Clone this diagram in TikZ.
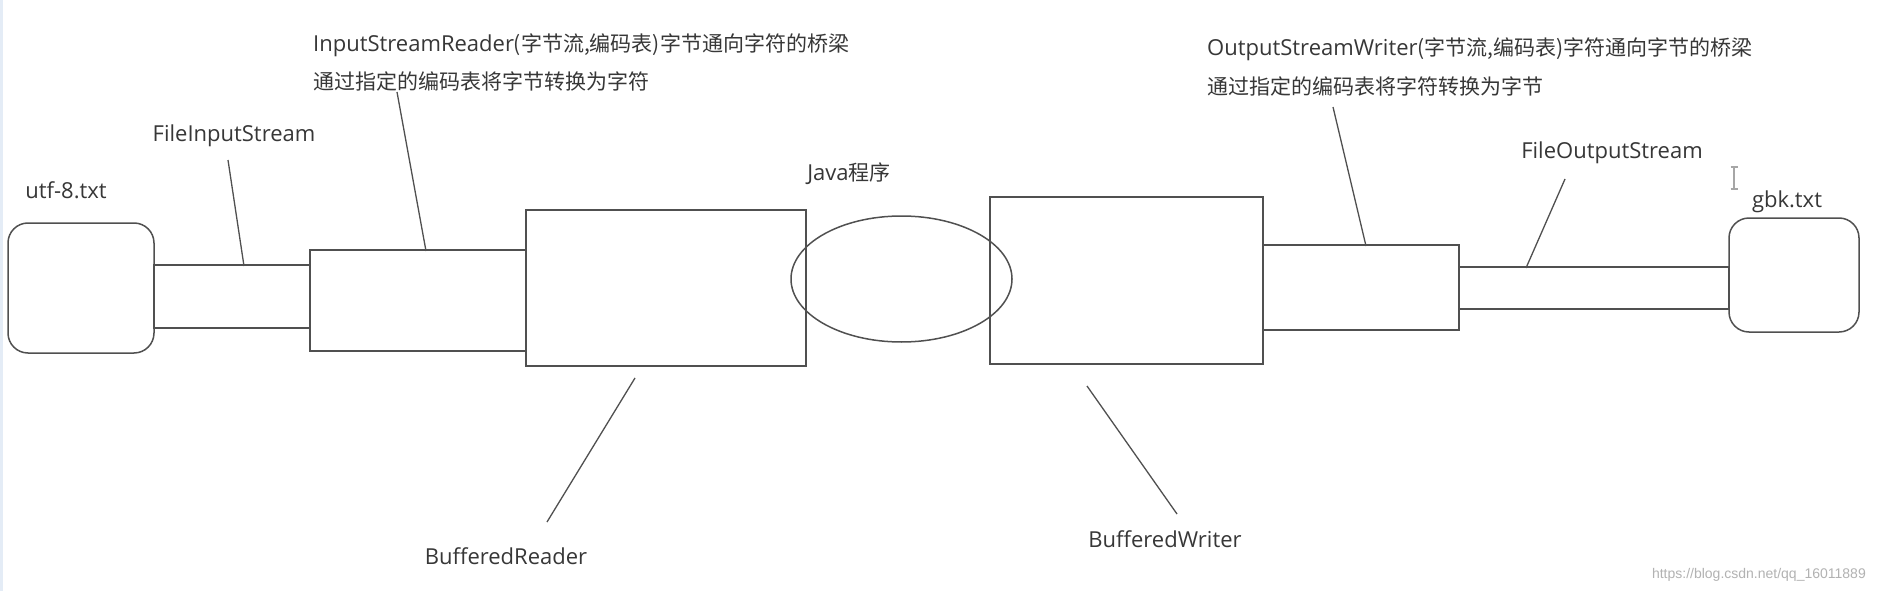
\documentclass[tikz,border=0pt]{standalone}
\usepackage{fontspec}
\setmainfont{Open Sans}
\newfontfamily\cjk{Noto Sans CJK SC}
\newfontfamily\wmfont{Liberation Sans}
\newcommand\cjtext[1]{{\cjk\fontsize{21}{25}\selectfont #1}}
\usetikzlibrary{shapes.geometric}
\definecolor{ln}{RGB}{80,80,80}
\definecolor{tx}{RGB}{55,55,55}
\definecolor{edgeblue}{RGB}{228,236,246}
\begin{document}
\begin{tikzpicture}[x=1pt,y=-1pt,
  shp/.style={draw=ln,line width=1.5pt,inner sep=0pt,outer sep=0pt},
  boxr/.style={shp,rectangle,rounded corners=20pt},
  boxs/.style={shp,rectangle},
  lbl/.style={text=tx,inner sep=0pt,font=\fontsize{22}{26}\selectfont},
  lead/.style={draw=ln,line width=1.3pt},
  thick edge/.style={draw=ln,line width=2.6pt}]
\useasboundingbox (0,0) rectangle (1877,591);
\fill[white] (0,0) rectangle (1877,591);
\draw[edgeblue,line width=3pt] (1.5,0) -- (1.5,591);

% shapes
\node[boxr,minimum width=146pt,minimum height=130pt] (utf) at (81,288) {};
\node[boxs,minimum width=156pt,minimum height=63pt] (fis) at (232,296.5) {};
\node[boxs,minimum width=216pt,minimum height=101pt] (isr) at (418,300.5) {};
\node[boxs,minimum width=280pt,minimum height=156pt] (br) at (666,288) {};
\node[boxs,minimum width=273pt,minimum height=167pt] (bw) at (1126.5,280.5) {};
\node[shp,ellipse,minimum width=221pt,minimum height=126pt] (java) at (901.5,279) {};
\node[boxs,minimum width=196pt,minimum height=85pt] (osw) at (1361,287.5) {};
\node[boxs,minimum width=270pt,minimum height=42pt] (fos) at (1594,288) {};
\node[boxr,minimum width=130pt,minimum height=114pt] (gbk) at (1794,275) {};

% darker joints
\draw[thick edge] (fis.north west) -- (fis.south west);
\draw[thick edge] (fis.north east) -- (fis.south east);
\draw[thick edge] (isr.north east) -- (isr.south east);
\draw[thick edge] (fos.north west) -- (fos.south west);

% labels
\node[lbl] (lutf) at (66,190) {utf-8.txt};
\node[lbl] (lfis) at (234,136) {FileInputStream};
\node[lbl,anchor=west] (lisr1) at (313,45) {InputStreamReader\cjtext{(字节流,编码表)字节通向字符的桥梁}};
\node[lbl,anchor=west] (lisr2) at (313,81) {\cjtext{通过指定的编码表将字节转换为字符}};
\node[lbl] (ljava) at (849,174) {Java\cjtext{程序}};
\node[lbl] (lbr) at (506,556) {BufferedReader};
\node[lbl] (lbw) at (1165,539) {BufferedWriter};
\node[lbl,anchor=west] (losw1) at (1207,49) {OutputStreamWriter\cjtext{(字节流,编码表)字符通向字节的桥梁}};
\node[lbl,anchor=west] (losw2) at (1207,86) {\cjtext{通过指定的编码表将字符转换为字节}};
\node[lbl] (lfos) at (1612,153) {FileOutputStream};
\node[lbl] (lgbk) at (1787,202) {gbk.txt};
\node[text=gray!60,inner sep=0pt,anchor=east,font=\wmfont\fontsize{14}{16}\selectfont] (wm) at (1866,575) {https://blog.csdn.net/qq\_16011889};

% leader lines
\coordinate (fisA) at (228,160);   \coordinate (fisB) at (244,266);
\coordinate (isrA) at (397,92);    \coordinate (isrB) at (426,251);
\coordinate (brA) at (635,378);    \coordinate (brB) at (547,522);
\coordinate (bwA) at (1087,386);   \coordinate (bwB) at (1177,514);
\coordinate (oswA) at (1333,107);  \coordinate (oswB) at (1366,246);
\coordinate (fosA) at (1565,179);  \coordinate (fosB) at (1526,268);
\draw[lead] (fisA) -- (fisB);
\draw[lead] (isrA) -- (isrB);
\draw[lead] (brA) -- (brB);
\draw[lead] (bwA) -- (bwB);
\draw[lead] (oswA) -- (oswB);
\draw[lead] (fosA) -- (fosB);

% text cursor
\draw[gray!70,line width=1.2pt] (1734,167) -- (1734,189);
\draw[gray!70,line width=1.2pt] (1730.5,167) -- (1737.5,167);
\draw[gray!70,line width=1.2pt] (1730.5,189) -- (1737.5,189);
\end{tikzpicture}
\end{document}
